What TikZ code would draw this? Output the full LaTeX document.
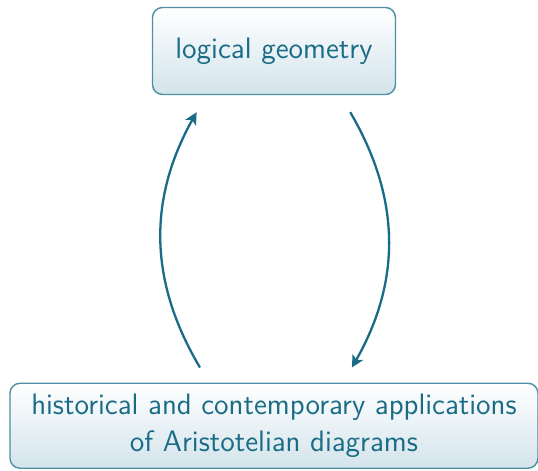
\documentclass[tikz,border=0pt]{standalone}
\usepackage[dvipsnames,svgnames]{xcolor}
\definecolor{geoTeal}{HTML}{1A6C86}
\definecolor{geoBorder}{HTML}{4E8FA3}
\definecolor{geoShade}{HTML}{D3E4EB}
\usepackage{tikz}
\usetikzlibrary{arrows.meta, positioning, calc, shadings}

\begin{document}
\begin{tikzpicture}
    % Marco fijo (proporciones de la figura)
    \useasboundingbox (-4.815,-7.38) rectangle (4.64,0.896);

    \tikzset{
        topicbox/.style={draw=geoBorder, line width=0.7pt, rounded corners=5pt,
            top color=white, bottom color=geoShade, text=geoTeal,
            font=\sffamily\fontsize{14.8}{18.5}\selectfont, align=center},
        flow/.style={-{Stealth[length=6pt, width=6pt, inset=1.5pt]}, geoTeal, line width=1.15pt}
    }

    % Nodos
    \node[topicbox, minimum width=121.5pt, minimum height=43.5pt] (geo) at (0,0) {logical geometry};
    \node[topicbox, minimum width=264pt, minimum height=42.5pt, below=of geo, yshift=-4.05cm] (apps)
        {historical and contemporary applications\\of Aristotelian diagrams};

    % Flechas curvas entre los dos nodos
    \draw[flow] ([xshift=-1.3cm, yshift=7.5pt]apps.north) to[bend left=30] ([xshift=-1.36cm, yshift=-8.5pt]geo.south);
    \draw[flow] ([xshift=1.34cm, yshift=-8.5pt]geo.south) to[bend left=30] ([xshift=1.37cm, yshift=7.5pt]apps.north);
\end{tikzpicture}
\end{document}
